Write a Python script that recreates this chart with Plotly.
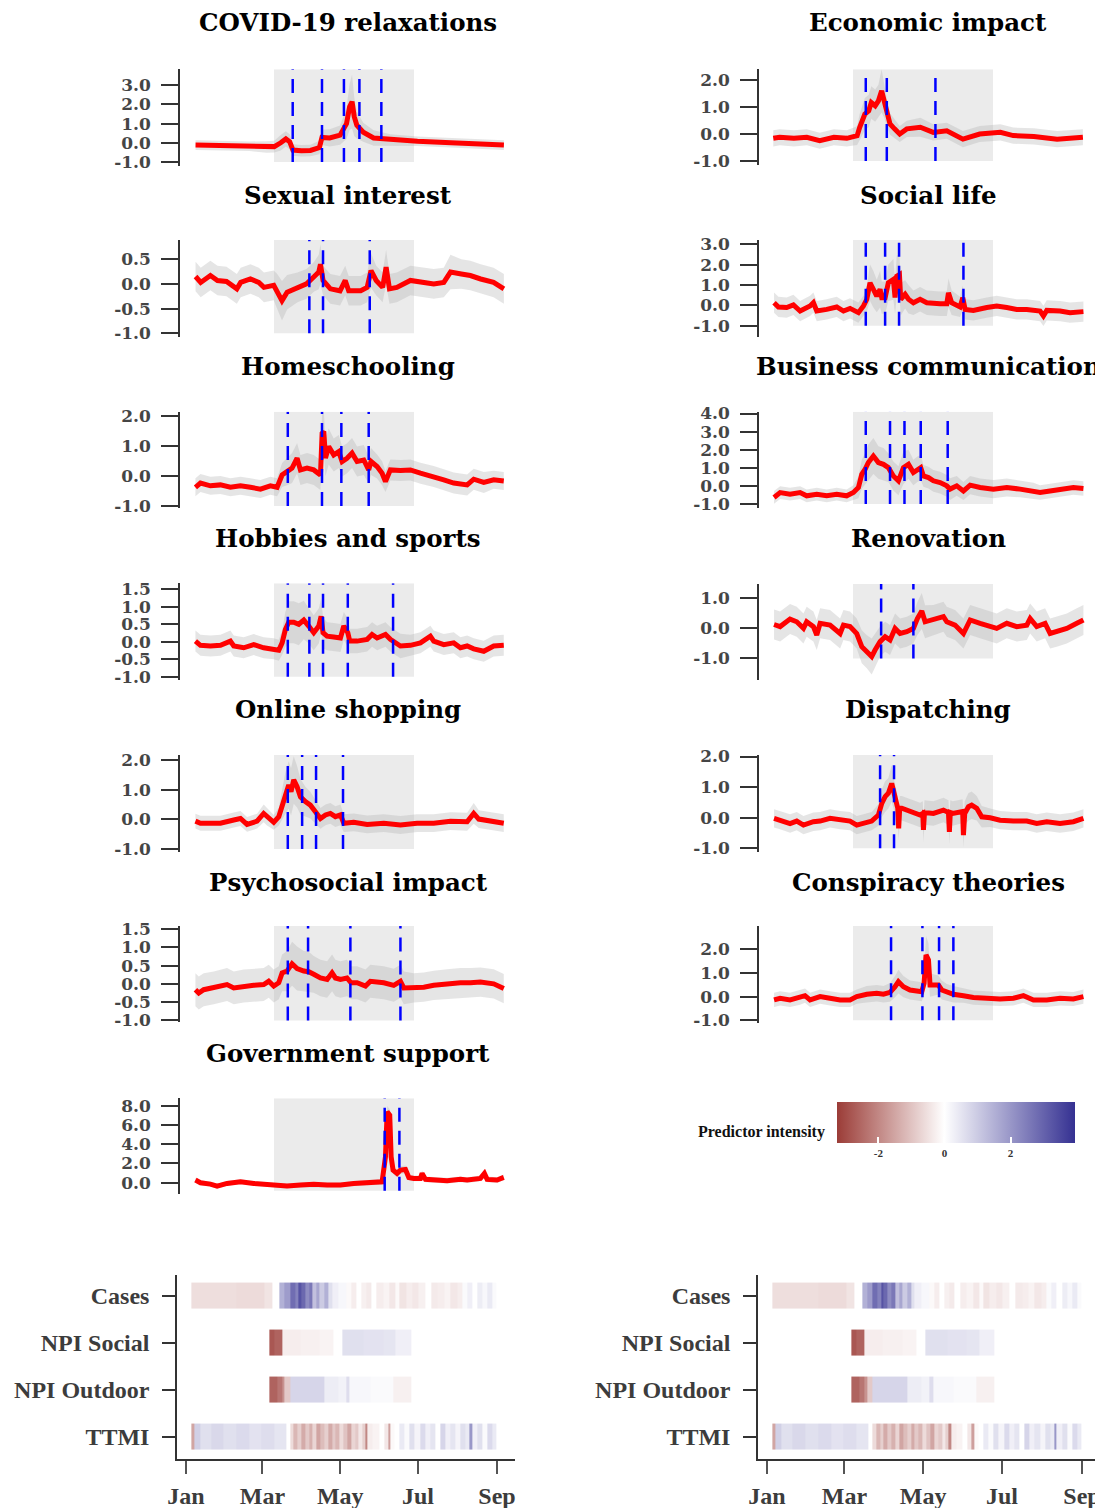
import pandas as pd
import plotly.graph_objects as go

W, H = 1103, 1508
OFF = 8  # the page body margin shifts the figure by this many pixels
BASE = pd.Timestamp("2020-01-01")


def dt(d):
    return BASE + pd.Timedelta(days=float(d))


def xp(px):
    return (px - OFF) / W


def yp(py):
    return 1 - (py - OFF) / H


# ---------------- time-series panels (day-of-year, value) ----------------
covid_days = [4, 21, 34, 46, 59, 65, 70, 74, 77, 79.5, 86, 93, 100, 102, 108, 116, 121, 123.4, 125.3, 127,
              129, 134, 142, 148, 155, 176, 202, 227, 243]
covid_vals = [-0.12, -0.15, -0.17, -0.18, -0.22, -0.2, 0.0, 0.2, 0.05, -0.38, -0.42, -0.4, -0.25, 0.28, 0.25,
              0.4, 1.0, 1.88, 2.14, 1.36, 0.92, 0.55, 0.25, 0.22, 0.14, 0.08, 0.0, -0.06, -0.12]
covid_spread = [0.25, 0.25, 0.25, 0.25, 0.3, 0.3, 0.4, 0.4, 0.4, 0.3, 0.3, 0.3, 0.35, 0.4, 0.45,
                0.5, 0.8, 1.2, 1.4, 1.0, 0.7, 0.5, 0.4, 0.35, 0.3, 0.25, 0.25, 0.25, 0.25]
covid_events = [79.3, 102, 119, 131, 148]

econ_days = [3, 8, 19, 29, 39, 50, 60, 68, 70, 74, 77, 79, 82, 84.5, 87, 89, 91, 93.5, 97, 101, 106.5, 117,
             127, 137.5, 150, 163, 179, 189, 205, 223, 243]
econ_vals = [-0.16, -0.12, -0.16, -0.12, -0.25, -0.12, -0.16, -0.06, 0.25, 0.74, 0.86, 1.17, 1.05, 1.23, 1.6,
             1.2, 0.8, 0.37, 0.19, 0.0, 0.19, 0.25, 0.06, 0.12, -0.19, 0.0, 0.06, -0.06, -0.09, -0.19, -0.12]
econ_spread = [0.3, 0.3, 0.3, 0.3, 0.3, 0.3, 0.3, 0.35, 0.5, 0.6, 0.6, 0.6, 0.6, 0.6, 0.8, 0.6, 0.5, 0.4,
               0.35, 0.3, 0.3, 0.35, 0.3, 0.3, 0.3, 0.3, 0.3, 0.3, 0.3, 0.3, 0.3]
econ_events = [74.7, 91, 128.7]

sex_days = [4, 8, 15.5, 21, 28, 36, 39, 46.5, 53, 57, 64.6, 67, 71, 75, 83, 90, 95.6, 99.5, 100.8, 102.8,
            108.5, 116, 120, 122.7, 132, 137, 140, 144, 149, 151.7, 154.3, 160, 170.5, 181, 188.6, 196.4,
            201.6, 210, 217, 225, 235, 243]
sex_vals = [0.15, 0.03, 0.17, 0.07, 0.05, -0.1, 0.03, 0.1, 0.03, -0.07, -0.03, -0.14, -0.34, -0.17, -0.07,
            0.0, 0.14, 0.24, 0.4, 0.07, -0.1, -0.14, 0.07, -0.14, -0.14, -0.07, 0.27, 0.07, -0.07, 0.34,
            -0.1, -0.07, 0.07, 0.03, 0.0, 0.03, 0.24, 0.2, 0.17, 0.1, 0.03, -0.1]
sex_spread = [0.3, 0.3, 0.3, 0.3, 0.3, 0.3, 0.3, 0.3, 0.3, 0.3, 0.3, 0.35, 0.4, 0.35, 0.3, 0.3, 0.3, 0.35,
              0.4, 0.3, 0.3, 0.3, 0.3, 0.3, 0.3, 0.3, 0.35, 0.3, 0.3, 0.35, 0.3, 0.3, 0.3, 0.3, 0.3, 0.3,
              0.35, 0.3, 0.3, 0.3, 0.3, 0.3]
sex_events = [92.2, 102.8, 139]

social_days = [3.6, 7, 13.4, 18.6, 23.8, 31.5, 34.1, 36.7, 44.4, 52.2, 57.4, 62.5, 69, 72.9, 75.5, 78, 80.6,
               83.2, 85.8, 87.1, 89.7, 92.2, 96.1, 97.4, 98.7, 100.8, 101.8, 105.2, 107.8, 111.6, 116.8, 122,
               132.3, 137.5, 138.8, 141.3, 147.8, 149.9, 151.7, 158.1, 168.5, 176.2, 184, 191.7, 199.5,
               209.8, 212.4, 215, 225.3, 233, 243.4]
social_vals = [0.13, -0.08, -0.11, 0.02, -0.28, -0.03, 0.13, -0.28, -0.2, -0.08, -0.28, -0.15, -0.36, -0.03,
               0.3, 1.11, 0.79, 0.46, 0.79, 0.38, 0.38, 1.11, 1.28, 0.38, 1.44, 1.52, 0.3, 0.54, 0.3, 0.13,
               0.3, 0.13, 0.08, 0.08, 0.62, 0.13, -0.08, 0.38, -0.2, -0.25, -0.11, -0.03, -0.11, -0.2, -0.2,
               -0.28, -0.52, -0.25, -0.28, -0.36, -0.31]
social_spread = [0.5, 0.5, 0.5, 0.5, 0.5, 0.5, 0.5, 0.5, 0.5, 0.5, 0.5, 0.5, 0.5, 0.5, 0.6, 0.9, 0.9, 0.8,
                 0.9, 0.8, 0.8, 0.9, 1.0, 0.8, 1.0, 1.0, 0.8, 0.7, 0.7, 0.6, 0.6, 0.6, 0.6, 0.6, 0.7, 0.6,
                 0.5, 0.6, 0.5, 0.5, 0.5, 0.5, 0.5, 0.5, 0.5, 0.5, 0.5, 0.5, 0.5, 0.5, 0.5]
social_events = [74.7, 89.7, 100.5, 150.4]

home_days = [3.9, 7.8, 15.5, 23.3, 31, 38.8, 46.5, 54.3, 62, 67.2, 71.1, 74.9, 78.8, 82.7, 85.3, 90.4, 95.6,
             100.8, 102.1, 103.4, 104.7, 107.2, 111.1, 115, 117.6, 121.4, 125.3, 129.2, 134.4, 138.2, 140,
             144.7, 148.6, 151.2, 155, 162.8, 170.5, 178.3, 188.6, 196.4, 204.1, 214.5, 219.6, 227.4, 235.1,
             242.9]
home_vals = [-0.38, -0.24, -0.33, -0.3, -0.38, -0.33, -0.38, -0.44, -0.33, -0.38, 0.03, 0.14, 0.26, 0.59,
             0.2, 0.26, 0.2, 0.03, 1.42, 1.48, 0.59, 0.98, 0.7, 0.81, 0.48, 0.59, 0.76, 0.48, 0.53, 0.2, 0.48,
             0.31, 0.09, -0.19, 0.2, 0.18, 0.2, 0.09, -0.02, -0.13, -0.24, -0.3, -0.11, -0.22, -0.13, -0.17]
home_spread = [0.3, 0.3, 0.3, 0.3, 0.3, 0.3, 0.3, 0.3, 0.3, 0.3, 0.4, 0.45, 0.5, 0.5, 0.5, 0.5, 0.5, 0.5,
               0.7, 0.7, 0.6, 0.6, 0.55, 0.55, 0.5, 0.5, 0.5, 0.5, 0.5, 0.45, 0.45, 0.4, 0.4, 0.35, 0.35,
               0.35, 0.35, 0.35, 0.35, 0.35, 0.35, 0.35, 0.35, 0.35, 0.3, 0.3]
home_events = [75.5, 102, 117, 138.2]

biz_days = [3.6, 8.3, 16, 23.8, 28.9, 36.7, 44.4, 52.2, 59.9, 65.1, 69, 71.6, 74.2, 76.7, 80.6, 84.5, 88.4,
            92.2, 96.1, 100, 103.9, 107.8, 111.6, 114.7, 117.3, 119.4, 123.3, 127.1, 132.3, 137.5, 140, 145.2,
            150.4, 155.6, 163.3, 173.6, 184, 194.3, 204.7, 209.8, 217.5, 227.9, 235.6, 243.4]
biz_vals = [-0.64, -0.37, -0.46, -0.37, -0.55, -0.46, -0.55, -0.46, -0.55, -0.37, -0.09, 0.64, 0.92, 1.29,
            1.65, 1.29, 1.19, 1.01, 0.55, 0.28, 1.01, 1.19, 0.74, 0.92, 1.01, 0.55, 0.46, 0.28, 0.18, 0.0,
            -0.18, 0.0, -0.28, 0.04, -0.09, -0.18, -0.09, -0.18, -0.28, -0.37, -0.28, -0.18, -0.09, -0.15]
biz_spread = [0.35, 0.35, 0.35, 0.35, 0.35, 0.35, 0.35, 0.35, 0.35, 0.4, 0.6, 0.8, 0.9, 1.0, 1.0, 0.9, 0.9,
              0.8, 0.8, 0.8, 0.9, 0.8, 0.7, 0.7, 0.7, 0.6, 0.6, 0.6, 0.6, 0.6, 0.6, 0.55, 0.5, 0.5, 0.5,
              0.5, 0.5, 0.45, 0.45, 0.4, 0.4, 0.4, 0.4, 0.4]
biz_events = [74.7, 93.5, 104.7, 117.3, 138.2]

hobby_days = [3.9, 7.8, 15.5, 23.3, 31, 33.6, 41.3, 49.1, 56.8, 64.6, 68.5, 71.1, 73.6, 76.2, 80.1, 84, 87.9,
              91.7, 95.6, 99.5, 101.3, 102.8, 105.9, 111.1, 116.3, 118.9, 122, 123.5, 129.2, 137, 140.8,
              144.7, 151.2, 155, 158.9, 162.8, 170.5, 178.3, 186, 188.6, 196.4, 204.1, 209.3, 214.5, 219.6,
              227.4, 235.1, 242.9]
hobby_vals = [0.02, -0.1, -0.12, -0.1, 0.02, -0.12, -0.17, -0.08, -0.17, -0.2, -0.24, -0.03, 0.35, 0.56,
              0.56, 0.5, 0.62, 0.45, 0.26, 0.45, 0.73, 0.26, 0.16, 0.14, 0.11, 0.45, 0.26, 0.02, 0.02, 0.07,
              0.21, 0.11, 0.21, 0.07, -0.03, -0.12, -0.1, -0.03, 0.16, 0.02, -0.08, -0.03, -0.17, -0.12,
              -0.2, -0.27, -0.12, -0.1]
hobby_spread = [0.3, 0.3, 0.3, 0.3, 0.3, 0.3, 0.3, 0.3, 0.3, 0.3, 0.3, 0.35, 0.5, 0.6, 0.6, 0.6, 0.55, 0.5,
                0.5, 0.5, 0.5, 0.45, 0.4, 0.4, 0.4, 0.4, 0.4, 0.35, 0.35, 0.35, 0.35, 0.35, 0.35, 0.35,
                0.35, 0.35, 0.3, 0.3, 0.3, 0.3, 0.3, 0.3, 0.3, 0.3, 0.3, 0.3, 0.3, 0.3]
hobby_events = [75.5, 92.2, 102.8, 122, 157.1]

reno_days = [3.6, 8.3, 16, 21.2, 26.4, 28.9, 34.1, 36.7, 39.3, 47, 54.8, 57.4, 62.5, 67.7, 71.6, 75.5, 79.3,
             81.9, 85.8, 89.7, 93.5, 97.4, 101.3, 106.5, 111.6, 114.7, 118.1, 120.7, 127.1, 134.9, 137.5,
             143.9, 150.4, 155.6, 163.3, 171.1, 176.2, 184, 191.7, 199.5, 202.1, 207.2, 213.7, 217.6, 222.7,
             230.5, 238.3, 243.4]
reno_vals = [0.13, 0.06, 0.31, 0.22, 0.0, 0.22, 0.06, -0.22, 0.17, 0.11, -0.17, 0.11, 0.06, -0.17, -0.61,
             -0.78, -0.94, -0.72, -0.44, -0.28, -0.39, 0.0, -0.17, -0.11, 0.0, 0.33, 0.58, 0.22, 0.28, 0.39,
             0.22, 0.11, -0.17, 0.28, 0.17, 0.06, 0.0, 0.17, 0.06, 0.11, 0.33, 0.06, 0.17, -0.17, -0.11, 0.0,
             0.17, 0.28]
reno_spread = [0.5, 0.5, 0.5, 0.5, 0.5, 0.5, 0.5, 0.5, 0.5, 0.5, 0.5, 0.5, 0.5, 0.5, 0.55, 0.55, 0.6, 0.55,
               0.5, 0.5, 0.5, 0.5, 0.5, 0.5, 0.5, 0.55, 0.6, 0.55, 0.5, 0.5, 0.5, 0.5, 0.5, 0.5, 0.5, 0.5,
               0.5, 0.5, 0.5, 0.5, 0.5, 0.5, 0.5, 0.5, 0.5, 0.5, 0.5, 0.5]
reno_events = [86.6, 111.6]

shop_days = [3.9, 7.8, 15.5, 23.3, 33.6, 38.8, 43.9, 51.7, 56.8, 59.4, 64.6, 68.5, 71.1, 73.6, 76.2, 78, 80.1,
             82.7, 85.3, 89.1, 93, 96.9, 100.8, 104.7, 108.5, 112.4, 116.3, 118.9, 126.6, 137, 149.9, 162.8,
             175.7, 188.6, 201.6, 214.5, 219.6, 223.5, 232.6, 242.9]
shop_vals = [-0.06, -0.13, -0.13, -0.13, -0.02, 0.03, -0.17, -0.06, 0.2, 0.09, -0.1, 0.09, 0.48, 0.88, 1.16,
             0.93, 1.33, 1.1, 0.76, 0.6, 0.48, 0.26, 0.03, 0.15, 0.2, 0.09, 0.15, -0.13, -0.1, -0.17, -0.13,
             -0.19, -0.13, -0.13, -0.06, -0.08, 0.2, 0.01, -0.06, -0.13]
shop_spread = [0.25, 0.25, 0.25, 0.25, 0.25, 0.25, 0.25, 0.25, 0.3, 0.3, 0.25, 0.3, 0.5, 0.7, 0.8, 0.8, 0.8,
               0.7, 0.6, 0.5, 0.45, 0.4, 0.35, 0.35, 0.35, 0.35, 0.35, 0.3, 0.3, 0.3, 0.3, 0.3, 0.3, 0.3,
               0.3, 0.3, 0.35, 0.3, 0.3, 0.3]
shop_events = [75.5, 86.6, 97.4, 118.3]

disp_days = [3.6, 8.3, 16, 21.2, 26.4, 34.1, 39.3, 47, 54.8, 62.5, 67.7, 72.9, 79.3, 84.5, 87.1, 89.7, 92.2,
             94.8, 96.6, 98.7, 99.5, 100.2, 101, 102.6, 106.5, 111.6, 116.8, 118.9, 119.4, 120.2, 127.1,
             134.9, 138.8, 139.5, 140.2, 142.1, 147.8, 149.8, 150.4, 151.4, 154.3, 156.8, 160.7, 164.6,
             171.1, 178.8, 189.1, 199.5, 207.2, 215, 225.3, 235.6, 243.4]
disp_vals = [-0.02, -0.08, -0.19, -0.11, -0.24, -0.13, -0.11, -0.02, -0.08, -0.11, -0.24, -0.19, -0.11, 0.09,
             0.47, 0.69, 0.8, 1.12, 0.74, 0.41, 0.31, -0.35, 0.31, 0.31, 0.25, 0.17, 0.09, 0.14, -0.4, 0.17,
             0.14, 0.25, 0.17, -0.46, 0.17, 0.14, 0.2, 0.2, -0.57, 0.14, 0.36, 0.41, 0.31, 0.03, 0.0, -0.08,
             -0.11, -0.11, -0.19, -0.13, -0.19, -0.13, -0.02]
disp_spread = [0.3, 0.3, 0.3, 0.3, 0.3, 0.3, 0.3, 0.3, 0.3, 0.3, 0.3, 0.3, 0.3, 0.35, 0.45, 0.5, 0.5, 0.6,
               0.5, 0.45, 0.4, 0.4, 0.4, 0.4, 0.4, 0.4, 0.4, 0.4, 0.4, 0.4, 0.4, 0.4, 0.4, 0.4, 0.4, 0.4,
               0.4, 0.4, 0.4, 0.4, 0.45, 0.45, 0.4, 0.35, 0.3, 0.3, 0.3, 0.3, 0.3, 0.3, 0.3, 0.3, 0.3]
disp_events = [85.8, 96.6]

psy_days = [3.9, 6.5, 10.3, 18.1, 28.4, 33.6, 41.3, 49.1, 56.8, 60.7, 64.6, 68.5, 71.1, 74.9, 78.8, 82.7,
            87.9, 91.7, 95.6, 100.8, 106, 109.8, 112.4, 116.3, 121.4, 124.5, 129.2, 135.7, 139.5, 144.7,
            149.9, 157.6, 162.8, 165.4, 173.1, 180.9, 188.6, 199, 209.3, 217.1, 224.8, 235.1, 242.9]
psy_vals = [-0.16, -0.25, -0.16, -0.11, -0.02, -0.11, -0.06, -0.04, -0.02, 0.07, -0.06, 0.03, 0.3, 0.35,
            0.55, 0.42, 0.35, 0.33, 0.26, 0.16, 0.12, 0.3, 0.16, 0.12, 0.16, 0.03, 0.03, -0.06, 0.07, 0.05,
            0.03, -0.04, 0.07, -0.11, -0.11, -0.09, -0.04, 0.0, 0.03, 0.03, 0.05, 0.0, -0.13]
psy_spread = [0.45, 0.45, 0.45, 0.45, 0.45, 0.45, 0.45, 0.45, 0.45, 0.45, 0.45, 0.45, 0.5, 0.55, 0.6, 0.6,
              0.55, 0.55, 0.5, 0.5, 0.5, 0.5, 0.5, 0.5, 0.5, 0.45, 0.45, 0.45, 0.45, 0.45, 0.45, 0.45,
              0.45, 0.45, 0.4, 0.4, 0.4, 0.4, 0.4, 0.4, 0.4, 0.4, 0.4]
psy_events = [75.5, 91.2, 124, 162.8]

consp_days = [3.6, 8.3, 16, 23.8, 27.6, 31.5, 39.3, 47, 54.8, 62.5, 67.7, 75.5, 83.2, 88.4, 93.5, 97.4, 100,
              103.9, 109, 114.2, 118.1, 119.9, 121.4, 123.3, 124.5, 127.1, 131, 133.6, 137.5, 142.6, 150.4,
              158.1, 168.5, 178.8, 189.1, 196.9, 204.7, 215, 225.3, 235.6, 243.4]
consp_vals = [-0.14, -0.07, -0.14, -0.04, 0.04, -0.14, 0.0, -0.07, -0.14, -0.14, 0.0, 0.1, 0.14, 0.1, 0.18,
              0.42, 0.63, 0.42, 0.28, 0.24, 0.21, 0.56, 1.76, 1.55, 0.49, 0.49, 0.49, 0.28, 0.18, 0.1, 0.04,
              -0.04, -0.07, -0.1, -0.07, 0.04, -0.14, -0.14, -0.07, -0.1, 0.0]
consp_spread = [0.3, 0.3, 0.3, 0.3, 0.3, 0.3, 0.3, 0.3, 0.3, 0.3, 0.3, 0.35, 0.35, 0.35, 0.4, 0.45, 0.5,
                0.45, 0.4, 0.4, 0.4, 0.5, 0.8, 0.7, 0.5, 0.45, 0.4, 0.4, 0.35, 0.35, 0.3, 0.3, 0.3, 0.3,
                0.3, 0.3, 0.3, 0.3, 0.3, 0.3, 0.3]
consp_events = [94.3, 118.6, 131.5, 142.6]

gov_days = [3.9, 7.8, 15.5, 20.7, 28.4, 38.8, 49.1, 59.4, 64.6, 74.9, 85.3, 95.6, 106, 116.3, 126.6, 137,
            148.6, 151.2, 152.5, 154.5, 155.6, 157.1, 158.9, 160.2, 162.8, 166.7, 169.3, 173.1, 178.3, 179.6,
            182.2, 188.6, 199, 209.3, 214.5, 224.8, 227.9, 230, 237.7, 242.9]
gov_vals = [0.28, 0.0, -0.14, -0.35, -0.07, 0.1, -0.07, -0.14, -0.24, -0.35, -0.24, -0.17, -0.24, -0.24,
            -0.07, 0.0, 0.1, 2.7, 7.37, 7.02, 2.7, 1.31, 1.14, 0.97, 1.31, 1.38, 0.55, 0.45, 0.45, 0.97, 0.35,
            0.28, 0.21, 0.35, 0.28, 0.45, 0.97, 0.35, 0.28, 0.55]
gov_spread = [0.25, 0.25, 0.25, 0.25, 0.25, 0.25, 0.25, 0.25, 0.25, 0.25, 0.25, 0.25, 0.25, 0.25, 0.25,
              0.25, 0.3, 0.5, 0.6, 0.6, 0.5, 0.4, 0.4, 0.4, 0.4, 0.4, 0.3, 0.3, 0.3, 0.3, 0.3, 0.3, 0.3,
              0.3, 0.3, 0.3, 0.3, 0.3, 0.3, 0.3]
gov_events = [150.6, 162]

npi_start, npi_end = 64.8, 173.3

# ---------------- heatmap predictors (run starts, run values) ----------------
cases_breaks = [5, 40, 62, 68, 74, 78, 82, 86, 89, 91, 94, 97, 100, 103, 105, 109, 112, 115, 120, 126,
                130, 134, 138, 142, 146, 150, 155, 160, 165, 168, 173, 178, 183, 188, 193, 198, 203, 208,
                213, 217, 221, 225, 229, 233, 237, 241]
cases_vals = [-0.55, -0.6, -0.45, 0.0, 1.5, 1.9, 2.8, 2.4, 3.3, 2.9, 2.2, 2.6, 1.2, 1.7, 1.0, 1.5, 0.6, 0.3,
              0.15, -0.1, -0.3, 0.0, -0.25, -0.35, 0.0, -0.3, -0.2, -0.4, -0.1, -0.45, -0.3, -0.4, -0.25,
              0.0, -0.35, -0.3, -0.2, -0.4, -0.3, 0.1, 0.3, 0.0, 0.35, 0.15, 0.4, 0.1]
cases_end = 244
social_breaks = [66, 70, 76, 90, 105, 116, 123, 140, 155, 165]
social_npi_vals = [-2.8, -2.6, -0.3, -0.25, -0.2, 0.0, 0.6, 0.55, 0.5, 0.3]
social_end = 177
outdoor_breaks = [66, 72, 76, 78, 82, 109, 120, 126, 129, 145, 163]
outdoor_vals = [-2.6, -2.3, -1.8, -0.9, 0.8, 0.35, 0.25, 0.65, 0.15, 0.1, -0.25]
outdoor_end = 177
ttmi_breaks = [5, 7, 12, 20, 30, 40, 50, 60, 70, 79, 82, 85, 88, 91, 94, 97, 100, 103, 106, 109, 112, 115,
               118, 121, 124, 127, 130, 133, 136, 139, 141, 143, 147, 152, 156, 159, 161, 164, 168, 172, 176,
               180, 184, 188, 192, 196, 200, 204, 208, 212, 216, 220, 223, 225, 229, 233, 237, 241]
ttmi_vals = [-1.5, 0.9, 0.6, 0.75, 0.6, 0.7, 0.55, 0.65, 0.5, 0.0, -0.6, -1.2, -0.8, -1.4, -0.9, -1.3, -0.7,
             -1.5, -1.1, -0.8, -1.4, -0.9, -1.2, -0.6, -1.0, -1.5, -0.7, -0.9, -0.4, -0.8, -2.0, -0.3, -0.2,
             0.0, -0.4, -1.6, -0.1, 0.0, 0.4, 0.1, 0.6, 0.2, 0.7, 0.3, 0.5, 0.0, 0.8, 0.3, 0.5, 0.2, 0.6, 0.4,
             2.0, 0.3, 0.6, 0.1, 0.7, 0.4]
ttmi_end = 244
row_labels = ["TTMI", "NPI Outdoor", "NPI Social", "Cases"]
month_ticks = ["2020-01-01", "2020-03-01", "2020-05-01", "2020-07-01", "2020-09-01"]
month_labels = ["Jan", "Mar", "May", "Jul", "Sep"]

# ---------------- layout geometry (pixels in the reference picture) ----------------
col_x = [(180, 515), (759, 1094)]
col_title_x = [348, 928]
row_title_y = [22, 195, 367, 538, 710, 882, 1053]
x_range_days = (-8.06, 251.6)

panels = [
    ("COVID-19 relaxations", 0, 0, 69.3, 166, (-1.21, 3.83), [-1, 0, 1, 2, 3], -1.0,
     covid_days, covid_vals, covid_spread, covid_events),
    ("Economic impact", 1, 0, 69.3, 165, (-1.15, 2.40), [-1, 0, 1, 2], -1.0,
     econ_days, econ_vals, econ_spread, econ_events),
    ("Sexual interest", 0, 1, 240, 336.7, (-1.07, 0.89), [-1, -0.5, 0, 0.5], -1.0,
     sex_days, sex_vals, sex_spread, sex_events),
    ("Social life", 1, 1, 240, 337, (-1.56, 3.22), [-1, 0, 1, 2, 3], -1.0,
     social_days, social_vals, social_spread, social_events),
    ("Homeschooling", 0, 2, 411.7, 508, (-1.07, 2.14), [-1, 0, 1, 2], -1.0,
     home_days, home_vals, home_spread, home_events),
    ("Business communication", 1, 2, 411.7, 508.3, (-1.24, 4.1), [-1, 0, 1, 2, 3, 4], -1.0,
     biz_days, biz_vals, biz_spread, biz_events),
    ("Hobbies and sports", 0, 3, 583.3, 680, (-1.09, 1.67), [-1, -0.5, 0, 0.5, 1, 1.5], -1.0,
     hobby_days, hobby_vals, hobby_spread, hobby_events),
    ("Renovation", 1, 3, 584, 680, (-1.72, 1.48), [-1, 0, 1], -1.0,
     reno_days, reno_vals, reno_spread, reno_events),
    ("Online shopping", 0, 4, 755, 851.7, (-1.09, 2.17), [-1, 0, 1, 2], -1.0,
     shop_days, shop_vals, shop_spread, shop_events),
    ("Dispatching", 1, 4, 755, 851.7, (-1.11, 2.05), [-1, 0, 1, 2], -1.0,
     disp_days, disp_vals, disp_spread, disp_events),
    ("Psychosocial impact", 0, 5, 926, 1022.3, (-1.05, 1.58), [-1, -0.5, 0, 0.5, 1, 1.5], -1.0,
     psy_days, psy_vals, psy_spread, psy_events),
    ("Conspiracy theories", 1, 5, 926, 1022.7, (-1.1, 2.98), [-1, 0, 1, 2], -1.0,
     consp_days, consp_vals, consp_spread, consp_events),
    ("Government support", 0, 6, 1098.3, 1194, (-1.17, 8.77), [0, 2, 4, 6, 8], -0.83,
     gov_days, gov_vals, gov_spread, gov_events),
]

TICK_FONT = dict(family="DejaVu Serif", size=17, color="#454545", weight="bold")
TITLE_FONT = dict(family="DejaVu Serif", size=24.5, color="#000000", weight="bold")
LAB_FONT = dict(family="Liberation Serif", size=24, color="#3c3c3c", weight="bold")
AXC = "#333333"

fig = go.Figure()
layout = {}
shapes = []
annotations = []


def ax_key(kind, i):
    return kind if i == 1 else f"{kind}{i}"


def ref(kind, i):
    return kind if i == 1 else f"{kind}{i}"


for i, (title, col, row, top, bot, yr, ticks, gbot, days, vals, spread, events) in enumerate(panels, start=1):
    xr, yr_ = ref("x", i), ref("y", i)
    x0p, x1p = col_x[col]
    layout[ax_key("xaxis", i)] = dict(
        domain=[xp(x0p), xp(x1p)], anchor=yr_, type="date",
        range=[dt(x_range_days[0]), dt(x_range_days[1])],
        visible=False, showgrid=False, zeroline=False, fixedrange=True, automargin=False)
    layout[ax_key("yaxis", i)] = dict(
        domain=[yp(bot), yp(top)], anchor=xr, range=list(yr),
        showgrid=False, zeroline=False, showline=True, linecolor=AXC, linewidth=1.5,
        ticks="outside", ticklen=17, tickwidth=1.5, tickcolor=AXC,
        tickvals=ticks, ticktext=[f"{t:.1f}" for t in ticks], tickfont=TICK_FONT,
        ticklabelstandoff=7, fixedrange=True, automargin=False)
    dates = [dt(d) for d in days]
    hi = [v + s for v, s in zip(vals, spread)]
    lo = [v - s for v, s in zip(vals, spread)]
    fig.add_trace(go.Scatter(x=dates + dates[::-1], y=hi + lo[::-1], fill="toself", mode="lines",
                             line=dict(width=0), fillcolor="rgba(175,175,175,0.32)",
                             hoverinfo="skip", xaxis=xr, yaxis=yr_))
    fig.add_trace(go.Scatter(x=dates, y=vals, mode="lines", line=dict(color="#ff0000", width=5),
                             xaxis=xr, yaxis=yr_, hoverinfo="skip"))
    shapes.append(dict(type="rect", xref=xr, yref=yr_, x0=dt(npi_start), x1=dt(npi_end),
                       y0=gbot, y1=yr[1], fillcolor="#ebebeb", line=dict(width=0), layer="below"))
    for e in events:
        shapes.append(dict(type="line", xref=xr, yref=yr_, x0=dt(e), x1=dt(e), y0=gbot, y1=yr[1],
                           line=dict(color="#0000ff", width=2.5, dash="14px,9px"), layer="above"))
    annotations.append(dict(text=title, x=xp(col_title_x[col]), y=yp(row_title_y[row]),
                            xref="paper", yref="paper", showarrow=False, xanchor="center",
                            yanchor="middle", font=TITLE_FONT))


# ---------------- heatmaps ----------------
def runs_to_row(breaks, values, end, ndays=245):
    row = [None] * ndays
    for k, (s, v) in enumerate(zip(breaks, values)):
        e = breaks[k + 1] if k + 1 < len(breaks) else end
        for d in range(s, e):
            row[d] = v
    return row


heat_days = [dt(d) for d in range(245)]
z = [runs_to_row(ttmi_breaks, ttmi_vals, ttmi_end),
     runs_to_row(outdoor_breaks, outdoor_vals, outdoor_end),
     runs_to_row(social_breaks, social_npi_vals, social_end),
     runs_to_row(cases_breaks, cases_vals, cases_end)]

heat_geo = [((177, 515), (-7.06, 258.1)), ((758, 1103), (-6.97, 260.3))]
for j, ((x0p, x1p), (d0, d1)) in enumerate(heat_geo):
    i = 14 + j
    xr, yr_ = ref("x", i), ref("y", i)
    fig.add_trace(go.Heatmap(x=heat_days, y=[0, 1, 2, 3], z=z, coloraxis="coloraxis", ygap=21,
                             xaxis=xr, yaxis=yr_, hoverinfo="skip"))
    layout[ax_key("xaxis", i)] = dict(
        domain=[xp(x0p), xp(x1p)], anchor=yr_, type="date", range=[dt(d0), dt(d1)],
        showgrid=False, zeroline=False, showline=True, linecolor=AXC, linewidth=1.5,
        ticks="outside", ticklen=13, tickwidth=1.5, tickcolor="#555555",
        tickvals=month_ticks, ticktext=month_labels, tickfont=LAB_FONT, ticklabelstandoff=1,
        fixedrange=True, automargin=False)
    layout[ax_key("yaxis", i)] = dict(
        domain=[yp(1459), yp(1275)], anchor=xr, range=[-0.468, 3.447],
        showgrid=False, zeroline=False, showline=True, linecolor=AXC, linewidth=1.5,
        ticks="outside", ticklen=13, tickwidth=1.5, tickcolor=AXC,
        tickvals=[0, 1, 2, 3], ticktext=row_labels, tickfont=LAB_FONT, ticklabelstandoff=8,
        fixedrange=True, automargin=False)

annotations.append(dict(text="Predictor intensity", x=xp(827), y=yp(1132), xref="paper", yref="paper",
                        showarrow=False, xanchor="right", yanchor="middle",
                        font=dict(family="Liberation Serif", size=16, color="#111111", weight="bold")))

fig.update_layout(
    width=W, height=H, margin=dict(l=0, r=0, t=0, b=0, pad=0, autoexpand=False), autosize=False,
    paper_bgcolor="white", plot_bgcolor="white", showlegend=False,
    coloraxis=dict(
        colorscale=[[0.0, "#9b3c37"], [0.451, "#ffffff"], [1.0, "#353192"]],
        cmin=-3.25, cmax=3.95,
        colorbar=dict(orientation="h", x=xp(837), xanchor="left", y=yp(1102), yanchor="top",
                      len=238, lenmode="pixels", thickness=41, thicknessmode="pixels",
                      outlinewidth=0, xpad=0, ypad=0, tickvals=[-2, 0, 2], ticktext=["-2", "0", "2"],
                      ticks="inside", ticklen=6, tickcolor="white", tickwidth=1.5,
                      tickfont=dict(family="Liberation Serif", size=11, color="#333333", weight="bold"))),
    shapes=shapes, annotations=annotations, **layout)

fig.write_html("out.html")
